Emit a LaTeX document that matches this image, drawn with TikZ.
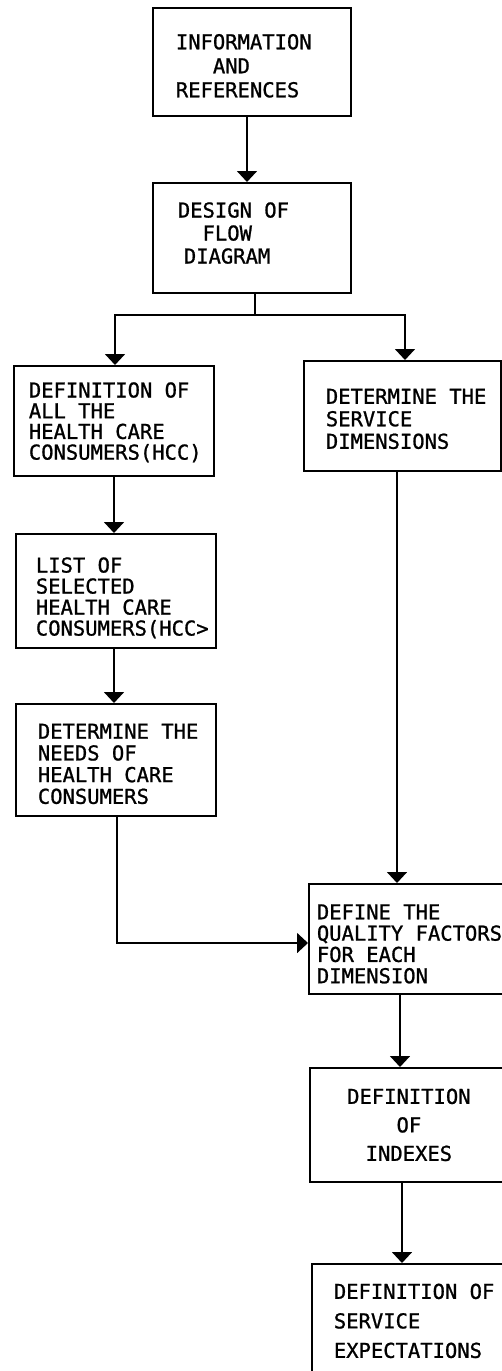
\documentclass[tikz,border=0pt]{standalone}
\usepackage{fontspec}
\newfontfamily\plotfont[FakeBold=1]{DejaVu Sans Mono}
\usetikzlibrary{arrows.meta}
% shift a box's text down (\dn) or up (\up) by #1
\newcommand\dn[1]{\rule{0pt}{\dimexpr 15pt+2\dimexpr #1\relax\relax}}
\newcommand\up[1]{\rule[-2\dimexpr #1\relax]{0pt}{0pt}}
% one monospace character cell of blank space
\newcommand\ws{\hphantom{A}}
\begin{document}
\begin{tikzpicture}[x=1pt,y=-1pt,
  box/.style={draw, line width=1.8pt, inner xsep=0pt, inner ysep=0pt,
    anchor=north west, align=left},
  ls/.style={font=\plotfont\fontsize{20.5}{#1}\selectfont},
  ln/.style={line width=1.8pt},
  arr/.style={line width=1.8pt, -{Triangle[width=20pt,length=11pt]}}]
\useasboundingbox (0,0) rectangle (502,1371);
\clip (0,0) rectangle (502,1371);
\fill[white] (0,0) rectangle (502,1371);

% boxes
\node[box, ls=24pt, minimum width=198pt, minimum height=108pt, text width=152pt] (info) at (152,7)
  {\dn{4pt}INFORMATION\\\hphantom{AAA}AND\\REFERENCES};
\node[box, ls=23pt, minimum width=198pt, minimum height=110pt, text width=148pt] (design) at (152,182)
  {DESIGN\ws OF\\\hphantom{AA}FLOW\\\hspace*{6pt}DIAGRAM\up{5pt}};
\node[box, ls=20.7pt, minimum width=200pt, minimum height=110pt, text width=170pt] (hcc) at (13,365)
  {\dn{1.5pt}DEFINITION\ws OF\\ALL\ws THE\\HEALTH\ws CARE\\CONSUMERS(HCC)};
\node[box, ls=21pt, minimum width=200pt, minimum height=114pt, text width=160pt] (list) at (15,533)
  {\dn{7pt}LIST\ws OF\\SELECTED\\HEALTH\ws CARE\\CONSUMERS(HCC>};
\node[box, ls=21.7pt, minimum width=200pt, minimum height=112pt, text width=156pt] (needs) at (15,703)
  {\dn{4pt}DETERMINE\ws THE\\NEEDS\ws OF\\HEALTH\ws CARE\\CONSUMERS};
\node[box, ls=22.5pt, minimum width=197pt, minimum height=110pt, text width=153pt] (dims) at (303,360)
  {\dn{3pt}DETERMINE\ws THE\\SERVICE\\DIMENSIONS};
\node[box, ls=21.3pt, minimum width=212pt, minimum height=110pt, text width=196pt] (qf) at (308,883)
  {\dn{5pt}DEFINE\ws THE\\QUALITY\ws FACTORS\\FOR\ws EACH\\DIMENSION};
\node[box, ls=28.5pt, align=center, minimum width=198pt, minimum height=114pt, text width=180pt] (idx) at (309,1067)
  {DEFINITION\\OF\\INDEXES};
\node[box, ls=29.5pt, minimum width=210pt, minimum height=114pt, text width=166pt] (exp) at (311,1263)
  {DEFINITION\ws OF\\SERVICE\\EXPECTATIONS};

% helper coordinates
\coordinate (xa) at (247,0);
\coordinate (j) at (255,315);
\coordinate (xb) at (115,0);
\coordinate (xc) at (405,0);
\coordinate (xd) at (114,0);
\coordinate (xe) at (117,0);
\coordinate (ya) at (0,943);
\coordinate (xf) at (397,0);
\coordinate (xg) at (400,0);
\coordinate (xh) at (402,0);

% connectors
\draw[arr] (info.south -| xa) -- (design.north -| xa);
\draw[ln] (design.south -| j) -- (j);
\draw[arr] (j) -| (hcc.north -| xb);
\draw[arr] (j) -| (dims.north -| xc);
\draw[arr] (hcc.south -| xd) -- (list.north -| xd);
\draw[arr] (list.south -| xd) -- (needs.north -| xd);
\draw[arr] (needs.south -| xe) |- (qf.west |- ya);
\draw[arr] (dims.south -| xf) -- (qf.north -| xf);
\draw[arr] (qf.south -| xg) -- (idx.north -| xg);
\draw[arr] (idx.south -| xh) -- (exp.north -| xh);
\end{tikzpicture}
\end{document}
